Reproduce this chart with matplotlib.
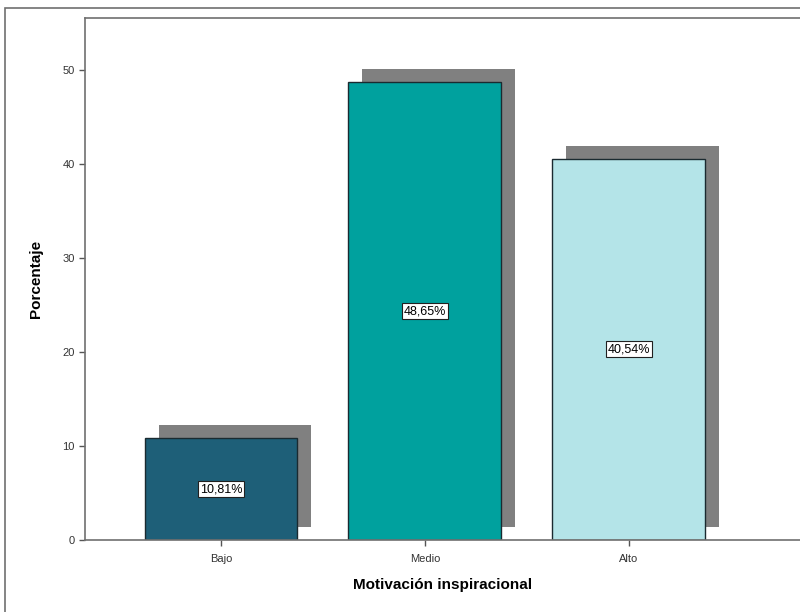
import matplotlib.pyplot as plt
import matplotlib.transforms as mtransforms
from matplotlib.patches import Rectangle

categorias = ['Bajo', 'Medio', 'Alto']
porcentajes = [10.81, 48.65, 40.54]
etiquetas = ['10,81%', '48,65%', '40,54%']
colores = ['#1e5f78', '#00a19e', '#b4e4e8']
yticks = [0, 10, 20, 30, 40, 50]

plt.rcParams['font.family'] = ['Liberation Sans', 'DejaVu Sans']

fig = plt.figure(figsize=(8, 6.12), dpi=100)
ax = fig.add_axes([0.10625, 0.1176, 0.8938, 0.853])

# marco exterior
fig.patches.append(Rectangle((0.006, -0.1), 1.2, 1.087, transform=fig.transFigure,
                             fill=False, edgecolor='#707070', linewidth=1.2))

x = list(range(len(categorias)))

# sombra desplazada detras de cada barra
sombra = ax.transData + mtransforms.ScaledTranslation(0.14, 0.13, fig.dpi_scale_trans)
ax.bar(x, porcentajes, width=0.75, color='#808080', transform=sombra, zorder=1)
ax.bar(x, porcentajes, width=0.75, color=colores, edgecolor='#1a2a30',
       linewidth=1.0, zorder=2)

for xi, v, t in zip(x, porcentajes, etiquetas):
    ax.text(xi, v / 2, t, ha='center', va='center', fontsize=9, zorder=3,
            bbox=dict(boxstyle='square,pad=0.15', facecolor='white',
                      edgecolor='#202020', linewidth=0.8))

ax.set_xlim(-0.667, 2.84)
ax.set_ylim(0, 55.5)
ax.set_xticks(x)
ax.set_xticklabels(categorias, fontsize=8, color='#333333')
ax.set_yticks(yticks)
ax.set_yticklabels([str(v) for v in yticks], fontsize=8, color='#333333')
ax.tick_params(axis='both', length=4, width=1, color='#555555')
ax.tick_params(axis='x', pad=6)

for s in ['left', 'bottom', 'top']:
    ax.spines[s].set_color('#707070')
    ax.spines[s].set_linewidth(1.2)
ax.spines['right'].set_visible(False)

ax.set_xlabel('Motivación inspiracional', fontsize=11, fontweight='bold', labelpad=10)
ax.set_ylabel('Porcentaje', fontsize=11, fontweight='bold', labelpad=14)

plt.savefig('out.png', dpi=100)
